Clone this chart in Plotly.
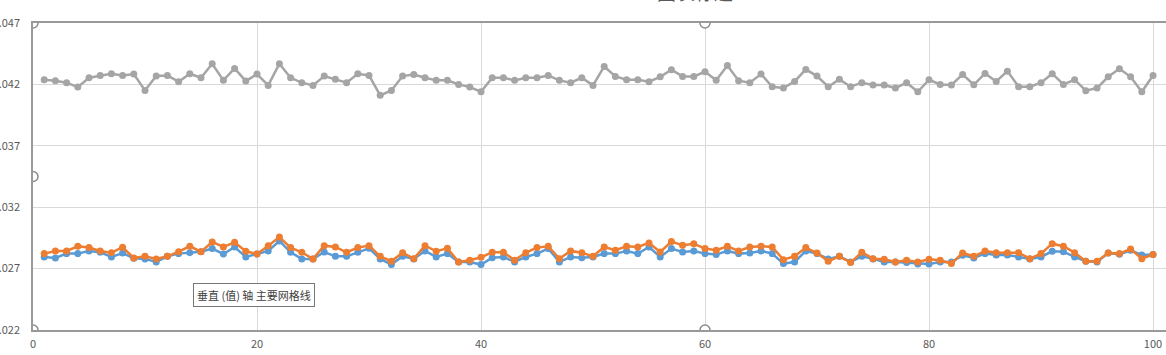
import plotly.graph_objects as go

x_vals = list(range(1, 101))

blue = [0.02795, 0.02787, 0.02822, 0.02822, 0.02844, 0.02833, 0.02795, 0.02827, 0.02784, 0.02779,
        0.02754, 0.02800, 0.02822, 0.02830, 0.02838, 0.02863, 0.02819, 0.02876, 0.02795, 0.02819,
        0.02844, 0.02925, 0.02833, 0.02779, 0.02779, 0.02835, 0.02800, 0.02800, 0.02833, 0.02865,
        0.02779, 0.02733, 0.02800, 0.02779, 0.02844, 0.02795, 0.02822, 0.02754, 0.02754, 0.02733,
        0.02789, 0.02795, 0.02754, 0.02795, 0.02822, 0.02863, 0.02754, 0.02795, 0.02789, 0.02795,
        0.02822, 0.02822, 0.02844, 0.02822, 0.02876, 0.02795, 0.02863, 0.02835, 0.02844, 0.02822,
        0.02814, 0.02844, 0.02822, 0.02827, 0.02844, 0.02822, 0.02741, 0.02754, 0.02844, 0.02822,
        0.02779, 0.02800, 0.02754, 0.02800, 0.02779, 0.02754, 0.02754, 0.02749, 0.02738, 0.02738,
        0.02754, 0.02754, 0.02808, 0.02787, 0.02822, 0.02811, 0.02811, 0.02795, 0.02779, 0.02795,
        0.02841, 0.02838, 0.02795, 0.02760, 0.02754, 0.02827, 0.02816, 0.02849, 0.02811, 0.02814]

orange = [0.02822, 0.02844, 0.02844, 0.02882, 0.02871, 0.02844, 0.02830, 0.02873, 0.02787, 0.02800,
          0.02779, 0.02800, 0.02838, 0.02882, 0.02838, 0.02917, 0.02876, 0.02914, 0.02841, 0.02819,
          0.02887, 0.02957, 0.02871, 0.02833, 0.02779, 0.02887, 0.02876, 0.02833, 0.02871, 0.02887,
          0.02800, 0.02760, 0.02830, 0.02781, 0.02887, 0.02841, 0.02865, 0.02754, 0.02768, 0.02792,
          0.02833, 0.02833, 0.02768, 0.02830, 0.02871, 0.02882, 0.02781, 0.02844, 0.02830, 0.02800,
          0.02876, 0.02849, 0.02882, 0.02876, 0.02909, 0.02835, 0.02920, 0.02890, 0.02903, 0.02863,
          0.02849, 0.02882, 0.02844, 0.02876, 0.02882, 0.02876, 0.02773, 0.02800, 0.02871, 0.02827,
          0.02760, 0.02800, 0.02749, 0.02833, 0.02781, 0.02776, 0.02754, 0.02768, 0.02754, 0.02776,
          0.02768, 0.02741, 0.02827, 0.02800, 0.02844, 0.02830, 0.02830, 0.02830, 0.02781, 0.02822,
          0.02903, 0.02882, 0.02830, 0.02760, 0.02760, 0.02827, 0.02822, 0.02860, 0.02781, 0.02814]

gray = [0.04238, 0.04230, 0.04214, 0.04178, 0.04254, 0.04273, 0.04287, 0.04273, 0.04284, 0.04151,
        0.04268, 0.04273, 0.04222, 0.04287, 0.04254, 0.04368, 0.04233, 0.04330, 0.04227, 0.04284,
        0.04192, 0.04368, 0.04254, 0.04214, 0.04192, 0.04268, 0.04241, 0.04214, 0.04287, 0.04273,
        0.04111, 0.04151, 0.04268, 0.04281, 0.04254, 0.04233, 0.04233, 0.04200, 0.04178, 0.04140,
        0.04254, 0.04254, 0.04233, 0.04254, 0.04254, 0.04273, 0.04233, 0.04214, 0.04254, 0.04192,
        0.04346, 0.04265, 0.04238, 0.04238, 0.04222, 0.04262, 0.04319, 0.04265, 0.04265, 0.04303,
        0.04233, 0.04354, 0.04230, 0.04214, 0.04284, 0.04181, 0.04170, 0.04224, 0.04322, 0.04268,
        0.04181, 0.04241, 0.04181, 0.04214, 0.04195, 0.04195, 0.04170, 0.04214, 0.04140, 0.04238,
        0.04200, 0.04195, 0.04281, 0.04197, 0.04289, 0.04224, 0.04308, 0.04181, 0.04181, 0.04214,
        0.04287, 0.04200, 0.04238, 0.04149, 0.04170, 0.04262, 0.04327, 0.04262, 0.04140, 0.04273]

series = [("系列1", blue, "#5B9BD5"), ("系列2", orange, "#ED7D31"), ("系列3", gray, "#A5A5A5")]

y_ticks = [0.022, 0.027, 0.032, 0.037, 0.042, 0.047]
x_ticks = [0, 20, 40, 60, 80, 100, 120]

font_family = "Noto Sans CJK SC, Open Sans, sans-serif"

fig = go.Figure()
for name, vals, color in series:
    fig.add_trace(go.Scatter(
        x=x_vals, y=vals, name=name, mode="lines+markers",
        line=dict(color=color, width=2.5),
        marker=dict(color=color, size=7, symbol="circle"),
        showlegend=False, cliponaxis=False,
    ))

fig.update_layout(
    width=1166, height=355,
    margin=dict(l=33, r=0, t=23, b=25, autoexpand=False),
    paper_bgcolor="white", plot_bgcolor="white",
    font=dict(family=font_family, size=11, color="#595959"),
    xaxis=dict(range=[0, 101.16], tickvals=x_ticks, showgrid=True, gridcolor="#D9D9D9",
               gridwidth=1, zeroline=False, showline=True, linecolor="#999999", linewidth=1.5,
               mirror=True, ticks="", ticklabelstandoff=3, automargin=False,
               tickfont=dict(size=11, color="#595959")),
    yaxis=dict(range=[0.022, 0.047], tickvals=y_ticks, tickformat=".3f", showgrid=True,
               gridcolor="#D9D9D9", gridwidth=1, zeroline=False, showline=True, automargin=False,
               linecolor="#999999", linewidth=1.5, ticks="", ticklabelstandoff=9,
               tickfont=dict(size=11, color="#595959")),
)

# chart title (mostly cut off at the top, as in the reference)
fig.add_annotation(text="图表标题", xref="paper", yref="paper", x=(695 - 33) / 1133, y=1,
                   xanchor="center", yanchor="bottom", yshift=16, showarrow=False,
                   font=dict(size=19, color="#595959", family=font_family))

# selection handles of the plot area
handles = [(0, 0.047), (0, 0.0345), (0, 0.022), (60, 0.047), (60, 0.022)]
for hx, hy in handles:
    fig.add_shape(type="circle", xref="x", yref="y", xsizemode="pixel", ysizemode="pixel",
                  xanchor=hx, yanchor=hy, x0=-5, x1=5, y0=-5, y1=5,
                  line=dict(color="#8C8C8C", width=1.5), fillcolor="white", layer="above")

# tooltip with shadow
tip_x, tip_y = 14.3, 0.02582
fig.add_shape(type="rect", xref="x", yref="y", xsizemode="pixel", ysizemode="pixel",
              xanchor=tip_x, yanchor=tip_y, x0=3, x1=115, y0=-23, y1=-3,
              line=dict(width=0), fillcolor="rgba(0,0,0,0.22)", layer="above")
fig.add_annotation(text="垂直 (值) 轴 主要网格线", x=tip_x, y=tip_y, xref="x", yref="y",
                   xanchor="left", yanchor="top", showarrow=False,
                   bgcolor="white", bordercolor="#767676", borderwidth=1, borderpad=3,
                   font=dict(size=11, color="#404040", family=font_family))

fig.write_html("out.html", config={"displayModeBar": False},
               post_script="document.body.style.margin='0';document.body.style.overflow='hidden';")
